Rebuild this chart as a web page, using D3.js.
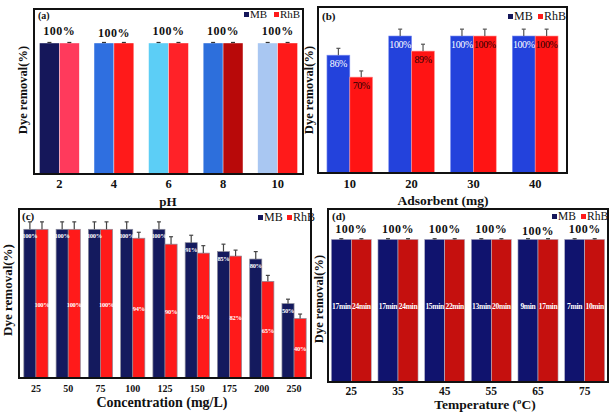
<!DOCTYPE html>
<html><head><meta charset="utf-8">
<script src="https://cdn.jsdelivr.net/npm/d3@7"></script>
<style>body{margin:0;background:#fff}svg{display:block}</style>
</head><body>
<svg id="chart" width="614" height="413"></svg>
<script>
// ---------- data ----------
const series = ["MB", "RhB"];

// (a) pH
const phCats = ["2", "4", "6", "8", "10"];
const phMB = [100, 100, 100, 100, 100];
const phRhB = [100, 100, 100, 100, 100];
const phErrMB = [0.4, 0.4, 0.4, 0.4, 0.4];
const phErrRhB = [0.4, 0.4, 0.4, 0.4, 0.4];
const phTopLabels = ["100%", "100%", "100%", "100%", "100%"];

// (b) Adsorbent
const adsCats = ["10", "20", "30", "40"];
const adsMB = [86, 100, 100, 100];
const adsRhB = [70, 89, 100, 100];
const adsErrMB = [5, 5, 5, 5];
const adsErrRhB = [4.5, 5, 5, 5];
const adsLabelMB = ["86%", "100%", "100%", "100%"];
const adsLabelRhB = ["70%", "89%", "100%", "100%"];

// (c) Concentration
const concCats = ["25", "50", "75", "100", "125", "150", "175", "200", "250"];
const concMB = [100, 100, 100, 100, 100, 91, 85, 80, 50];
const concRhB = [100, 100, 100, 94, 90, 84, 82, 65, 40];
const concErrMB = [5, 5, 5, 5, 5, 5, 5, 5, 3];
const concErrRhB = [5, 5, 5, 4, 5, 5, 4, 4, 3];
const concLabelMB = ["100%", "100%", "100%", "100%", "100%", "91%", "85%", "80%", "50%"];
const concLabelRhB = ["100%", "100%", "100%", "94%", "90%", "84%", "82%", "65%", "40%"];

// (d) Temperature
const tempCats = ["25", "35", "45", "55", "65", "75"];
const tempMB = [100, 100, 100, 100, 100, 100];
const tempRhB = [100, 100, 100, 100, 100, 100];
const tempErrMB = [0.4, 0.4, 0.4, 0.4, 0.4, 0.4];
const tempErrRhB = [0.4, 0.4, 0.4, 0.4, 0.4, 0.4];
const tempTopLabels = ["100%", "100%", "100%", "100%", "100%", "100%"];
const tempLabelMB = ["17min", "17min", "15min", "13min", "9min", "7min"];
const tempLabelRhB = ["24min", "24min", "22min", "20min", "17min", "10min"];

// ---------- drawing ----------
const svg = d3.select("#chart");
const SERIF = "'Liberation Serif','Times New Roman',serif";

function panel(cfg) {
  const g = svg.append("g");
  const x = d3.scaleBand().domain(cfg.cats).range([cfg.x0, cfg.x1])
    .paddingInner(cfg.pi).paddingOuter(cfg.po);
  const xs = d3.scaleBand().domain(series).range([0, x.bandwidth()]);
  const y = d3.scaleLinear().domain([0, 100]).range([cfg.y1, cfg.yTop]);
  const vals = [cfg.mb, cfg.rhb];
  const errs = [cfg.errMB, cfg.errRhB];
  const items = [];
  cfg.cats.forEach((c, i) => series.forEach((s, k) => items.push({
    c, i, s, k, v: vals[k][i], e: errs[k] ? errs[k][i] : 0
  })));

  // bars
  g.selectAll("rect.bar").data(items).join("rect").attr("class", "bar")
    .attr("x", d => x(d.c) + xs(d.s))
    .attr("y", d => y(d.v))
    .attr("width", xs.bandwidth())
    .attr("height", d => y(0) - y(d.v))
    .attr("fill", d => cfg.color(d))
    .attr("stroke", d => cfg.stroke ? cfg.stroke(d) : "none")
    .attr("stroke-width", cfg.strokeW || 0);

  // error bars
  const eb = g.selectAll("g.eb").data(items).join("g").attr("class", "eb")
    .attr("stroke", cfg.errColor || "#444").attr("stroke-width", 1.2);
  eb.append("line")
    .attr("x1", d => x(d.c) + xs(d.s) + xs.bandwidth() / 2)
    .attr("x2", d => x(d.c) + xs(d.s) + xs.bandwidth() / 2)
    .attr("y1", d => y(d.v)).attr("y2", d => y(d.v + d.e));
  eb.append("line")
    .attr("x1", d => x(d.c) + xs(d.s) + xs.bandwidth() / 2 - 2)
    .attr("x2", d => x(d.c) + xs(d.s) + xs.bandwidth() / 2 + 2)
    .attr("y1", d => y(d.v + d.e)).attr("y2", d => y(d.v + d.e));

  // top (group) labels
  if (cfg.topLabels) {
    g.selectAll("text.top").data(cfg.cats).join("text").attr("class", "top")
      .attr("x", c => x(c) + x.bandwidth() / 2)
      .attr("y", (c, i) => y(Math.max(cfg.mb[i], cfg.rhb[i])) - cfg.topOff + (cfg.topJitter ? cfg.topJitter[i] : 0))
      .attr("text-anchor", "middle")
      .attr("font-family", SERIF).attr("font-weight", "bold")
      .attr("font-size", cfg.topSize).attr("letter-spacing", 0.5)
      .attr("fill", "#111")
      .text((c, i) => cfg.topLabels[i]);
  }

  // inside labels
  if (cfg.inLabels) {
    g.selectAll("text.in").data(items).join("text").attr("class", "in")
      .attr("x", d => x(d.c) + xs(d.s) + xs.bandwidth() / 2)
      .attr("y", d => cfg.inY(d, y))
      .attr("text-anchor", "middle")
      .attr("font-family", cfg.inFont || SERIF)
      .attr("font-weight", cfg.inWeight || "bold")
      .attr("font-size", cfg.inSize)
      .attr("letter-spacing", cfg.inSpacing || 0)
      .attr("fill", d => cfg.inColor(d))
      .text(d => cfg.inLabels[d.k][d.i]);
  }

  // x axis ticks
  const ax = g.append("g").attr("transform", `translate(0,${cfg.y1})`)
    .call(d3.axisBottom(x).tickSize(0).tickPadding(cfg.tickPad));
  ax.select(".domain").remove();
  ax.selectAll("text").attr("font-family", SERIF).attr("font-weight", "bold")
    .attr("font-size", cfg.tickSize).attr("fill", "#111");

  // x title
  const xt = g.append("text").attr("x", cfg.xTitleX).attr("y", cfg.xTitleY)
    .attr("text-anchor", "middle").attr("font-family", SERIF)
    .attr("font-weight", "bold").attr("font-size", cfg.xTitleSize).attr("fill", "#111");
  if (cfg.xTitleSup) {
    xt.append("tspan").text(cfg.xTitle[0]);
    xt.append("tspan").attr("dy", -5).attr("font-size", cfg.xTitleSize * 0.65).text(cfg.xTitleSup);
    xt.append("tspan").attr("dy", 5).text(cfg.xTitle[1]);
  } else xt.text(cfg.xTitle);

  // y title
  g.append("text")
    .attr("transform", `translate(${cfg.yTitleX},${cfg.yTitleY}) rotate(-90)`)
    .attr("text-anchor", "middle").attr("dominant-baseline", "middle")
    .attr("font-family", SERIF).attr("font-weight", "bold")
    .attr("font-size", cfg.yTitleSize).attr("fill", "#111")
    .text("Dye removal(%)");

  // panel letter
  g.append("text").attr("x", cfg.x0 + cfg.letterDx).attr("y", cfg.y0 + cfg.letterDy)
    .attr("font-family", SERIF).attr("font-weight", "bold")
    .attr("font-size", cfg.letterSize).attr("fill", "#111").text(cfg.letter);

  // legend
  const lg = g.append("g").attr("transform", `translate(${cfg.legX},${cfg.legY})`);
  const legColors = cfg.legColors;
  let off = 0;
  series.forEach((s, k) => {
    lg.append("rect").attr("x", off).attr("y", -6).attr("width", 5).attr("height", 5)
      .attr("fill", legColors[k]);
    lg.append("text").attr("x", off + 6).attr("y", 0)
      .attr("font-family", SERIF).attr("font-size", cfg.legSize).attr("fill", "#111").text(s);
    off += cfg.legStep;
  });

  // frame
  g.append("rect").attr("x", cfg.x0).attr("y", cfg.y0)
    .attr("width", cfg.x1 - cfg.x0).attr("height", cfg.y1 - cfg.y0)
    .attr("fill", "none").attr("stroke", "#111").attr("stroke-width", 2);
}

// panel (a)
const aMBcol = ["#15175a", "#2f6fe0", "#5ccef6", "#2d6fdc", "#a9c7f2"];
const aRhBcol = ["#ff3a5c", "#ff1a1a", "#ff2228", "#b80909", "#ff1a1a"];
panel({
  cats: phCats, mb: phMB, rhb: phRhB, errMB: phErrMB, errRhB: phErrRhB,
  x0: 34, x1: 303, y0: 9, y1: 174, yTop: 43, pi: 0.27, po: 0.1,
  color: d => d.k === 0 ? aMBcol[d.i] : aRhBcol[d.i],
  stroke: () => "#ffffff", strokeW: 0.4, errColor: "#333",
  topLabels: phTopLabels, topOff: 8, topSize: 12, topJitter: [0, 2, 0, 0, 0],
  tickPad: 5, tickSize: 12.5,
  xTitle: "pH", xTitleX: 168, xTitleY: 206, xTitleSize: 13,
  yTitleX: 24, yTitleY: 90, yTitleSize: 12.5,
  letter: "(a)", letterDx: 4, letterDy: 10, letterSize: 10,
  legX: 244, legY: 18, legStep: 30, legSize: 11, legColors: ["#15175a", "#ff1a1a"]
});

// panel (b)
panel({
  cats: adsCats, mb: adsMB, rhb: adsRhB, errMB: adsErrMB, errRhB: adsErrRhB,
  x0: 318, x1: 567, y0: 7, y1: 173, yTop: 36, pi: 0.26, po: 0.145,
  color: d => d.k === 0 ? "#2342dc" : "#ff1414",
  stroke: d => d.k === 0 ? "#7d8ff0" : "#ff9a9a", strokeW: 0.6, errColor: "#555",
  inLabels: [adsLabelMB, adsLabelRhB], inSize: 10, inWeight: "normal", inSpacing: -0.4,
  inY: (d, y) => y(d.v) + 12,
  inColor: d => d.k === 0 ? "#ffffff" : "#2a0000",
  tickPad: 6, tickSize: 12.5,
  xTitle: "Adsorbent (mg)", xTitleX: 443, xTitleY: 205, xTitleSize: 13.5,
  yTitleX: 310, yTitleY: 90, yTitleSize: 12.5,
  letter: "(b)", letterDx: 4, letterDy: 13, letterSize: 11,
  legX: 508, legY: 20, legStep: 30, legSize: 12, legColors: ["#15175a", "#ff1a1a"]
});

// panel (c)
panel({
  cats: concCats, mb: concMB, rhb: concRhB, errMB: concErrMB, errRhB: concErrRhB,
  x0: 19, x1: 311, y0: 209, y1: 378, yTop: 229.3, pi: 0.25, po: 0.15,
  color: d => d.k === 0 ? "#141a5e" : "#ff1a1a",
  stroke: () => "#8a8a9a", strokeW: 0.7, errColor: "#444",
  inLabels: [concLabelMB, concLabelRhB], inSize: 6.5, inSpacing: -0.3,
  inY: (d, y) => d.k === 0 ? y(d.v) + 9 : (y(d.v) + y(0)) / 2 + 3,
  inColor: () => "#ffffff",
  tickPad: 7, tickSize: 10,
  xTitle: "Concentration (mg/L)", xTitleX: 162, xTitleY: 407, xTitleSize: 14,
  yTitleX: 9, yTitleY: 290, yTitleSize: 13,
  letter: "(c)", letterDx: 3, letterDy: 11, letterSize: 11,
  legX: 258, legY: 221, legStep: 29, legSize: 12, legColors: ["#15175a", "#ff1a1a"]
});

// panel (d)
panel({
  cats: tempCats, mb: tempMB, rhb: tempRhB, errMB: tempErrMB, errRhB: tempErrRhB,
  x0: 328, x1: 608, y0: 209, y1: 382, yTop: 239.3, pi: 0.14, po: 0.07,
  color: d => d.k === 0 ? "#10136e" : "#c5100e",
  stroke: () => "#b8b8c8", strokeW: 0.6, errColor: "#333",
  topLabels: tempTopLabels, topOff: 6, topSize: 12, topJitter: [0, 0, 0, 0, 2, 0],
  inLabels: [tempLabelMB, tempLabelRhB], inSize: 7.5, inSpacing: -0.3,
  inY: (d, y) => (y(d.v) + y(0)) / 2 - 2,
  inColor: () => "#ffffff",
  tickPad: 5, tickSize: 11.5,
  xTitle: ["Temperature (", "C)"], xTitleSup: "o", xTitleX: 485, xTitleY: 409, xTitleSize: 13.5,
  yTitleX: 320, yTitleY: 299, yTitleSize: 12.5,
  letter: "(d)", letterDx: 4, letterDy: 11, letterSize: 11,
  legX: 552, legY: 220, legStep: 29, legSize: 11.5, legColors: ["#15175a", "#ff1a1a"]
});
</script>
</body></html>
